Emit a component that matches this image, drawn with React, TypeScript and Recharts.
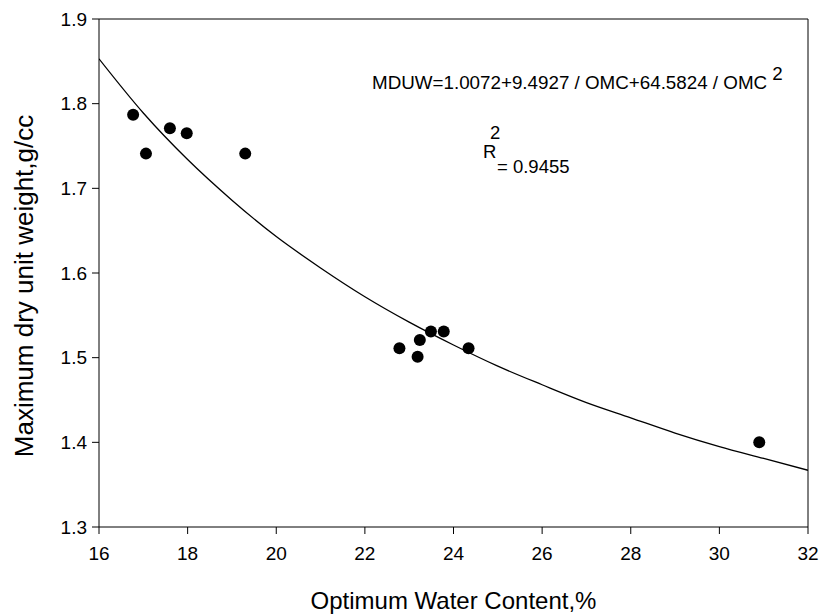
import React from 'react';
import {
  ComposedChart,
  Scatter,
  Line,
  XAxis,
  YAxis,
  ReferenceLine,
  Label,
} from 'recharts';

// measured points (OMC %, MDUW g/cc)
const omc = [16.77, 17.06, 17.6, 17.98, 19.3, 22.78, 23.19, 23.24, 23.49, 23.78, 24.34, 30.9];
const mduw = [1.787, 1.741, 1.771, 1.765, 1.741, 1.511, 1.501, 1.521, 1.531, 1.531, 1.511, 1.4];

// fitted curve at whole OMC values
const curveX = [16, 17, 18, 19, 20, 21, 22, 23, 24, 25, 26, 27, 28, 29, 30, 31, 32];
const curveY = [1.853, 1.789, 1.734, 1.686, 1.643, 1.606, 1.572, 1.542, 1.515, 1.49, 1.468, 1.447, 1.429, 1.411, 1.395, 1.381, 1.367];

const xTicks = [16, 18, 20, 22, 24, 26, 28, 30, 32];
const yTicks = [1.3, 1.4, 1.5, 1.6, 1.7, 1.8, 1.9];

const points = omc.map((x, i) => ({ x, y: mduw[i] }));
const curve = curveX.map((x, i) => ({ x, y: curveY[i] }));

const FONT = '"Liberation Sans", Arial, sans-serif';

const Dot = (props: any) => {
  const { cx, cy } = props;
  return <circle cx={cx} cy={cy} r={6} fill="#000" />;
};

const YTitle = () => (
  <text
    x={24}
    y={286}
    transform="rotate(-90, 24, 286)"
    textAnchor="middle"
    dominantBaseline="central"
    fontSize={26}
    fill="#000"
  >
    Maximum dry unit weight,g/cc
  </text>
);

export default function App() {
  return (
    <div style={{ position: 'absolute', left: 0, top: 0, width: 822, height: 614, background: '#fff', fontFamily: FONT }}>
      <ComposedChart
        width={822}
        height={614}
        margin={{ top: 19, right: 14, left: 0, bottom: 0 }}
        style={{ fontFamily: FONT }}
      >
        <XAxis
          type="number"
          dataKey="x"
          domain={[16, 32]}
          ticks={xTicks}
          allowDataOverflow
          height={87}
          stroke="#000"
          tickSize={7}
          tick={{ fill: '#000', fontSize: 19 }}
          tickMargin={13}
        >
          <Label value="Optimum Water Content,%" position="insideBottom" offset={5} fill="#000" fontSize={24} />
        </XAxis>
        <YAxis
          type="number"
          dataKey="y"
          domain={[1.3, 1.9]}
          ticks={yTicks}
          allowDataOverflow
          width={99}
          stroke="#000"
          tickSize={7}
          tick={{ fill: '#000', fontSize: 19 }}
          tickMargin={5}
          tickFormatter={(v) => v.toFixed(1)}
        >
          <Label content={<YTitle />} />
        </YAxis>
        <ReferenceLine y={1.9} stroke="#000" ifOverflow="visible" />
        <ReferenceLine x={32} stroke="#000" ifOverflow="visible" />
        <Line data={curve} dataKey="y" type="monotone" stroke="#000" strokeWidth={1.3} dot={false} isAnimationActive={false} />
        <Scatter data={points} dataKey="y" shape={<Dot />} isAnimationActive={false} />
      </ComposedChart>
      <div style={{ position: 'absolute', left: 372, top: 72, fontSize: 18.8, lineHeight: '22px', whiteSpace: 'nowrap', color: '#000' }}>
        MDUW=1.0072+9.4927 / OMC+64.5824 / OMC{' '}
        <span style={{ position: 'relative', top: -9 }}>2</span>
      </div>
      {/* R squared, drawn like the original with a raised 2 and a lowered value */}
      <div style={{ position: 'absolute', left: 483, top: 143, fontSize: 18.5, lineHeight: '18px', color: '#000' }}>R</div>
      <div style={{ position: 'absolute', left: 490, top: 124, fontSize: 18.5, lineHeight: '18px', color: '#000' }}>2</div>
      <div style={{ position: 'absolute', left: 497, top: 158, fontSize: 18.5, lineHeight: '18px', whiteSpace: 'nowrap', color: '#000' }}>= 0.9455</div>
    </div>
  );
}
